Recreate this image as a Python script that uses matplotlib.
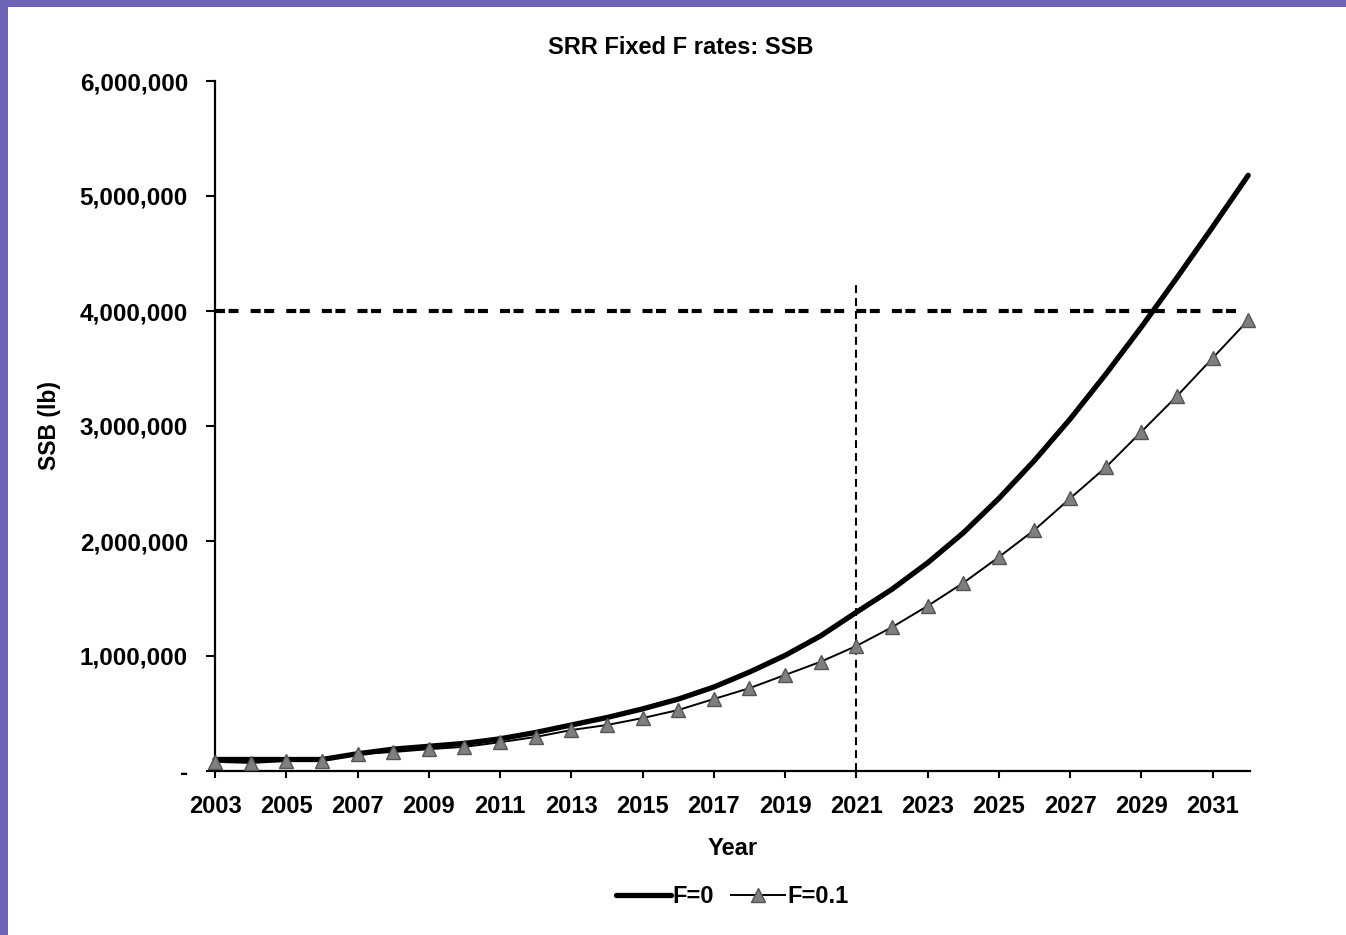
import matplotlib
matplotlib.use("Agg")
import matplotlib.pyplot as plt
from matplotlib.patches import Rectangle
from matplotlib.ticker import FuncFormatter, MultipleLocator, FixedLocator

years = list(range(2003, 2033))
ssb_f0 = [0.10, 0.10, 0.10, 0.10, 0.15, 0.19, 0.215, 0.24, 0.28, 0.335,
          0.40, 0.465, 0.54, 0.625, 0.73, 0.86, 1.005, 1.175, 1.38, 1.58,
          1.81, 2.07, 2.37, 2.70, 3.06, 3.45, 3.86, 4.29, 4.73, 5.18]
ssb_f01 = [0.08, 0.07, 0.087, 0.087, 0.148, 0.165, 0.19, 0.21, 0.25, 0.296,
           0.356, 0.40, 0.46, 0.53, 0.626, 0.72, 0.835, 0.95, 1.087, 1.25,
           1.435, 1.635, 1.86, 2.096, 2.37, 2.64, 2.95, 3.26, 3.59, 3.92]
ssb_f0 = [v * 1e6 for v in ssb_f0]
ssb_f01 = [v * 1e6 for v in ssb_f01]
series_labels = ["F=0", "F=0.1"]
xtick_years = list(range(2003, 2032, 2))
target_ssb = 4_000_000
ref_year = 2021
ref_top = 4_250_000

plt.rcParams['font.family'] = ['Liberation Sans', 'DejaVu Sans']
plt.rcParams['font.weight'] = 'bold'

W, H = 1346, 935
fig = plt.figure(figsize=(W / 100, H / 100), dpi=100)
fig.patch.set_facecolor('#6e64b8')
bg = Rectangle((8 / W, 0), 1, 1 - 7 / H, transform=fig.transFigure,
               facecolor='white', edgecolor='none', zorder=-10)
fig.add_artist(bg)

ax = fig.add_axes([215 / W, 1 - 771 / H, (1250 - 215) / W, 690 / H])
ax.set_facecolor('none')
ax.set_zorder(1)

ax.plot(years, ssb_f0, color='black', lw=3.8, label=series_labels[0],
        solid_capstyle='round', solid_joinstyle='round', zorder=3, clip_on=False)
ax.plot(years, ssb_f01, color='black', lw=1.4, marker='^', markersize=10,
        markerfacecolor='#7f7f7f', markeredgecolor='#555555', markeredgewidth=1.0,
        label=series_labels[1], zorder=4, clip_on=False)

ax.plot([years[0], years[-1]], [target_ssb, target_ssb], color='black', lw=3.0,
        dashes=(2.4, 0.85, 2.4, 2.9), zorder=2)
ax.plot([ref_year, ref_year], [0, ref_top], color='black', lw=1.5,
        dashes=(3.8, 2.4), zorder=2)

ax.set_xlim(2003, 2032.05)
ax.set_ylim(0, 6_000_000)
ax.xaxis.set_major_locator(FixedLocator(xtick_years))
ax.yaxis.set_major_locator(MultipleLocator(1_000_000))

def yfmt(v, pos):
    if abs(v) < 1:
        return "-"
    return f"{int(round(v)):,}"

ax.yaxis.set_major_formatter(FuncFormatter(yfmt))
ax.xaxis.set_major_formatter(FuncFormatter(lambda v, p: f"{int(round(v))}"))

for s in ['top', 'right']:
    ax.spines[s].set_visible(False)
for s in ['left', 'bottom']:
    ax.spines[s].set_linewidth(1.6)
ax.tick_params(axis='y', direction='out', length=6.5, width=1.5, pad=13, labelsize=17.5)
ax.tick_params(axis='x', direction='out', length=5, width=1.5, pad=12, labelsize=17)
for lab in ax.get_xticklabels() + ax.get_yticklabels():
    lab.set_fontweight('bold')

fig.text(681 / W, 1 - 47 / H, "SRR Fixed F rates: SSB", fontsize=17, fontweight='bold',
         ha='center', va='center')
ax.set_xlabel("Year", fontsize=17, fontweight='bold', labelpad=14)
ax.set_ylabel("SSB (lb)", fontsize=16.5, fontweight='bold')
ax.yaxis.set_label_coords(-0.149, 0.5)

leg = ax.legend(loc='upper center', bbox_to_anchor=(0.5, -0.135), ncol=2, frameon=False,
                handlelength=2.3, handletextpad=0.1, columnspacing=0.7,
                prop={'weight': 'bold', 'size': 17})

fig.savefig("out.png", dpi=100, facecolor=fig.get_facecolor())
